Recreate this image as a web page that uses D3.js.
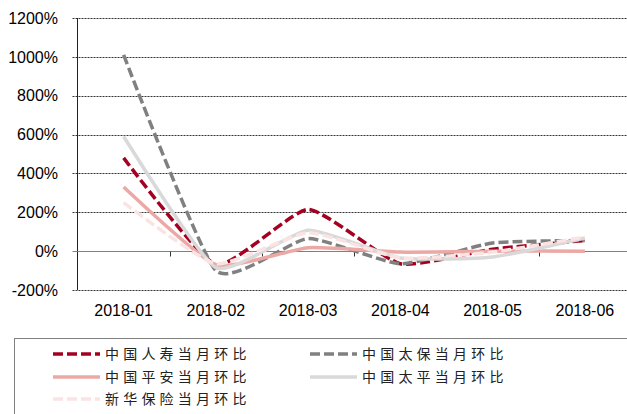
<!DOCTYPE html>
<html>
<head>
<meta charset="utf-8">
<script src="https://cdn.jsdelivr.net/npm/d3@7"></script>
<style>
  body { margin: 0; background: #fff; }
  svg { display: block; }
  .tick-label { font-family: 'Liberation Sans', Arial, sans-serif; font-size: 16px; fill: #000; }
  .legend-text { font-family: 'Noto Sans CJK SC', sans-serif; font-size: 14px; fill: #222; letter-spacing: 4.2px; }
</style>
</head>
<body>
<script>
// categories and series (month-on-month change, %)
var months = ['2018-01', '2018-02', '2018-03', '2018-04', '2018-05', '2018-06'];
var renshou = [480, -70, 215, -65, 10, 55];   // 中国人寿
var taibao  = [1010, -100, 65, -65, 42, 55];  // 中国太保
var pingan  = [330, -70, 18, -5, 0, 0];       // 中国平安
var taiping = [590, -85, 108, -35, -30, 68];  // 中国太平
var xinhua  = [250, -65, 95, -35, -5, 73];    // 新华保险
var yTicks = [-200, 0, 200, 400, 600, 800, 1000, 1200];

var series = [
    {name: '中国人寿当月环比', values: renshou, color: '#A50021', dash: '10,4'},
    {name: '中国太保当月环比', values: taibao, color: '#808080', dash: '10,4'},
    {name: '中国平安当月环比', values: pingan, color: '#EBA8A4', dash: null},
    {name: '中国太平当月环比', values: taiping, color: '#D9D9D9', dash: null},
    {name: '新华保险当月环比', values: xinhua, color: '#FBE3E3', dash: '10,4'}
];

var w = 627, h = 414;
var plotLeft = 77.5, plotRight = 631, plotTop = 18, plotBottom = 290;

var svg = d3.select('body').append('svg')
    .attr('width', w)
    .attr('height', h);

var x = d3.scaleBand().domain(months).range([plotLeft, plotRight]);
var y = d3.scaleLinear().domain([-200, 1200]).range([plotBottom, plotTop]);

// gridlines (dotted)
svg.append('g').selectAll('line')
    .data(yTicks.filter(function(d){ return d != 0; }))
    .enter()
    .append('line')
    .attr('x1', plotLeft - 5)
    .attr('x2', w)
    .attr('y1', function(d){ return Math.round(y(d)) + 0.5; })
    .attr('y2', function(d){ return Math.round(y(d)) + 0.5; })
    .attr('stroke', '#333')
    .attr('stroke-width', 1)
    .attr('stroke-dasharray', '2,1');

// y tick labels
svg.append('g').selectAll('text')
    .data(yTicks)
    .enter()
    .append('text')
    .attr('class', 'tick-label')
    .attr('x', 58)
    .attr('y', function(d){ return y(d); })
    .attr('dy', '0.36em')
    .attr('text-anchor', 'end')
    .text(function(d){ return d + '%'; });

// y axis line
svg.append('line')
    .attr('x1', plotLeft).attr('x2', plotLeft)
    .attr('y1', plotTop).attr('y2', plotBottom)
    .attr('stroke', '#222');

// zero line with band ticks
var y0 = Math.round(y(0)) + 0.5;
svg.append('line')
    .attr('x1', plotLeft - 5).attr('x2', w)
    .attr('y1', y0).attr('y2', y0)
    .attr('stroke', '#808080');

svg.append('g').selectAll('line')
    .data(months.slice(1))
    .enter()
    .append('line')
    .attr('x1', function(d){ return Math.round(x(d)) + 0.5; })
    .attr('x2', function(d){ return Math.round(x(d)) + 0.5; })
    .attr('y1', y0)
    .attr('y2', y0 + 5)
    .attr('stroke', '#333');

// x labels
svg.append('g').selectAll('text')
    .data(months)
    .enter()
    .append('text')
    .attr('class', 'tick-label')
    .attr('x', function(d){ return x(d) + x.bandwidth() / 2; })
    .attr('y', 316)
    .attr('text-anchor', 'middle')
    .text(function(d){ return d; });

// lines (light smoothing)
var line = d3.line()
    .x(function(d, i){ return x(months[i]) + x.bandwidth() / 2; })
    .y(function(d){ return y(d); })
    .curve(d3.curveCardinal.tension(0.5));

svg.append('g').selectAll('path')
    .data(series)
    .enter()
    .append('path')
    .attr('d', function(d){ return line(d.values); })
    .attr('fill', 'none')
    .attr('stroke', function(d){ return d.color; })
    .attr('stroke-width', 3.5)
    .attr('stroke-dasharray', function(d){ return d.dash; });

// legend
svg.append('rect')
    .attr('x', 14.5)
    .attr('y', 338.5)
    .attr('width', 630)
    .attr('height', 90)
    .attr('fill', 'none')
    .attr('stroke', '#808080');

var legendPos = [[53, 354], [310, 354], [53, 377], [310, 377], [53, 399]];

var legend = svg.append('g').selectAll('g')
    .data(series)
    .enter()
    .append('g')
    .attr('transform', function(d, i){ return 'translate(' + legendPos[i][0] + ',' + legendPos[i][1] + ')'; });

legend.append('line')
    .attr('x1', 0).attr('x2', 47)
    .attr('y1', 0).attr('y2', 0)
    .attr('stroke', function(d){ return d.color; })
    .attr('stroke-width', 3.5)
    .attr('stroke-dasharray', function(d){ return d.dash; });

legend.append('text')
    .attr('class', 'legend-text')
    .attr('x', 52)
    .attr('y', 0)
    .attr('dy', '0.35em')
    .text(function(d){ return d.name; });
</script>
</body>
</html>
